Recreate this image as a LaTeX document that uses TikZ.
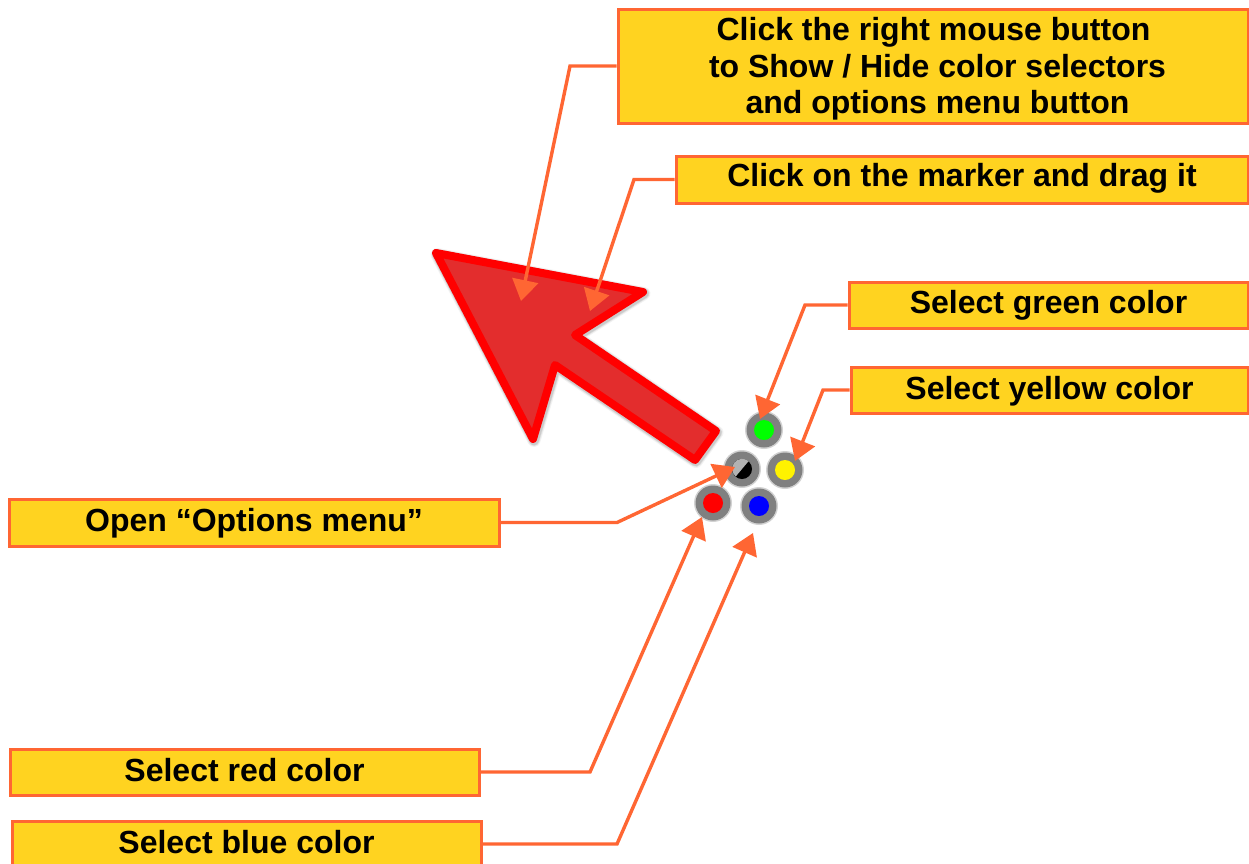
\documentclass[tikz,border=0pt]{standalone}
\usepackage{fontspec}
\setmainfont{Liberation Sans}
\usetikzlibrary{arrows.meta}
\definecolor{boxfill}{HTML}{FFD320}
\definecolor{boxline}{HTML}{FF6633}
\definecolor{markred}{HTML}{E32D2D}
\definecolor{ringgray}{HTML}{808080}
\tikzset{
  x=1pt,y=-1pt,
  callout/.style={draw=boxline,fill=boxfill,line width=3pt,inner sep=0pt,align=center,
    font=\fontsize{32}{36.5}\selectfont\bfseries,text=black},
  leader/.style={draw=boxline,line width=3.4pt,line join=miter,
    -{Triangle[length=21pt,width=26pt,color=boxline]}},
  ring/.style={circle,fill=ringgray,minimum size=35pt,inner sep=0pt},
  halo/.style={circle,fill=ringgray,opacity=.35,minimum size=38pt,inner sep=0pt},
  dot/.style={circle,minimum size=20pt,inner sep=0pt},
}
\newcommand{\markershape}{(436,253) -- (643,292) -- (575,335) -- (716,431) -- (695,460) -- (555,365) -- (533,439) -- cycle}
\newcommand{\lift}[2]{\raisebox{#1}[0pt][0pt]{#2}}
\begin{document}
\begin{tikzpicture}
\useasboundingbox (0,0) rectangle (1249,863);
\fill[white] (0,0) rectangle (1249,863);
% boxes
\node[callout,minimum width=630pt,minimum height=114pt] (b1) at (933,66) {\hspace*{9pt}\lift{-47.7pt}{\begin{tabular}[b]{@{}c@{}}Click the right mouse button\kern8pt\\to Show / Hide color selectors\\and options menu button\end{tabular}}};
\node[callout,minimum width=572pt,minimum height=47pt] (b2) at (962,179.5) {\lift{-7.2pt}{Click on the marker and drag it}};
\node[callout,minimum width=399pt,minimum height=46pt] (b3) at (1048.5,305) {\lift{-8.3pt}{Select green color}};
\node[callout,minimum width=397pt,minimum height=46pt] (b4) at (1049.5,390) {\lift{-9pt}{Select yellow color}};
\node[callout,minimum width=490pt,minimum height=47pt] (b5) at (254,522.5) {\lift{-8.5pt}{Open “Options menu”}};
\node[callout,minimum width=469pt,minimum height=46pt] (b6) at (244.5,772) {\lift{-9pt}{Select red color}};
\node[callout,minimum width=469pt,minimum height=46pt] (b7) at (246.5,844) {\lift{-9pt}{Select blue color}};
% selectors
\node[halo] at (764,430) {};
\node[halo] at (785,470) {};
\node[halo] at (742,469) {};
\node[halo] at (713,503) {};
\node[halo] at (759,506) {};
\node[ring] (rg) at (764,430) {};
\node[ring] (ry) at (785,470) {};
\node[ring] (ro) at (742,469) {};
\node[ring] (rr) at (713,503) {};
\node[ring] (rb) at (759,506) {};
\node[dot,fill=green] (dg) at (rg) {};
\node[dot,fill=yellow] (dy) at (ry) {};
\node[dot,fill=red] (dr) at (rr) {};
\node[dot,fill=blue] (db) at (rb) {};
\node[dot,fill=black] (dk) at (ro) {};
\fill[gray!60] (dk.50) arc[start angle=50,end angle=230,radius=10pt] -- cycle;
% marker
\foreach \w/\o in {13/.05,11/.07,9.5/.09}{
  \draw[black,opacity=\o,line width=\w pt,line join=round,shift={(1,1.5)}] \markershape;
}
\draw[red,fill=markred,line width=8pt,line join=round] \markershape;
% leader ends
\coordinate (k1) at (570,66);     \coordinate (t1) at (521,301);
\coordinate (k2) at (634,179.5);  \coordinate (t2) at (590,311);
\coordinate (k3) at (805,305);    \coordinate (t3) at (760,419);
\coordinate (k4) at (823,390);    \coordinate (t4) at (795,461);
\coordinate (k5) at (617,522.5);  \coordinate (t5) at (735,467);
\coordinate (k6) at (590,772);    \coordinate (t6) at (702,517);
\coordinate (k7) at (617,844);    \coordinate (t7) at (753,533);
\draw[leader] (b1.west) -- (k1) -- (t1);
\draw[leader] (b2.west) -- (k2) -- (t2);
\draw[leader] (b3.west) -- (k3) -- (t3);
\draw[leader] (b4.west) -- (k4) -- (t4);
\draw[leader] (b5.east) -- (k5) -- (t5);
\draw[leader] (b6.east) -- (k6) -- (t6);
\draw[leader] (b7.east) -- (k7) -- (t7);
\end{tikzpicture}
\end{document}
